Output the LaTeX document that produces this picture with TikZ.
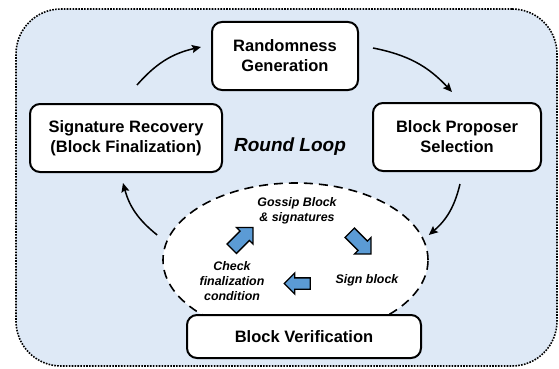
\documentclass[tikz,border=0pt]{standalone}
\usepackage{fontspec}
\setmainfont{Liberation Sans}
\usetikzlibrary{shapes.geometric,shapes.arrows,arrows.meta,calc}
\definecolor{bgblue}{HTML}{DEE9F6}
\definecolor{arrblue}{HTML}{5B9BD5}
\begin{document}
\begin{tikzpicture}[x=1pt,y=-1pt,
  box/.style={draw=black, line width=2pt, rounded corners=10pt, fill=white, align=center,
    font=\fontsize{16.5}{20}\selectfont\bfseries, inner sep=0pt},
  conn/.style={line width=1.5pt, -{Stealth[length=9pt,width=8pt,inset=1.5pt]}},
  small/.style={font=\fontsize{12.4}{15}\selectfont\bfseries\itshape, align=center, inner sep=0pt},
  barrow/.style={single arrow, draw=black, line width=1.3pt, fill=arrblue, inner sep=6pt,
    single arrow head extend=5pt}]
\useasboundingbox (0,0) rectangle (559,369);
% background frame
\node[draw=black, fill=bgblue, line width=1.6pt, dash pattern=on 1.6pt off 1.3pt,
  rounded corners=45pt, minimum width=541pt, minimum height=357pt, inner sep=0pt]
  (frame) at (286.5,187.5) {};
% inner loop ellipse
\node[ellipse, draw=black, fill=white, line width=1.6pt, dash pattern=on 9pt off 6pt,
  minimum width=265pt, minimum height=154pt, inner sep=0pt] (loop) at (295.5,260) {};
% boxes
\node[box, minimum width=146pt, minimum height=68pt] (rand) at (285,56) {Randomness\\Generation};
\node[box, minimum width=192pt, minimum height=68pt] (sig) at (126,138) {Signature Recovery\\(Block Finalization)};
\node[box, minimum width=168pt, minimum height=68pt] (prop) at (457,137) {Block Proposer\\Selection};
\node[box, minimum width=234pt, minimum height=43pt] (ver) at (304,336.5) {Block Verification};
% title
\node[font=\fontsize{19}{22}\selectfont\bfseries\itshape, inner sep=0pt] (title) at (290,147) {Round Loop};
% inner texts
\node[small] (gossip) at (297,211) {Gossip Block\\\& signatures};
\node[small] (check) at (232,281) {Check\\finalization\\condition};
\node[small] (sign) at (367,280) {Sign block};
% blue arrows
\node[barrow, rotate=45, minimum height=30pt, minimum width=23pt] (b1) at (240,240.5) {};
\node[barrow, rotate=-45, minimum height=30pt, minimum width=23pt] (b2) at (358,241) {};
\node[barrow, rotate=180, minimum height=26pt, minimum width=19pt, inner sep=5pt] (b3) at (300,283.5) {};
% connectors
\draw[conn] ($(sig.north)+(11,-18)$) to[bend left=18] ($(rand.west)+(-10,-9)$);
\draw[conn] ($(rand.east)+(14,-8)$) to[bend left=18] ($(prop.north)+(-5,-10)$);
\draw[conn] ($(prop.south)+(3,12)$) to[bend left=18] ($(loop.east)+(0,-25)$);
\draw[conn] ($(loop.west)+(-5,-25)$) to[bend left=18] ($(sig.south)+(-3,10)$);
\end{tikzpicture}
\end{document}
